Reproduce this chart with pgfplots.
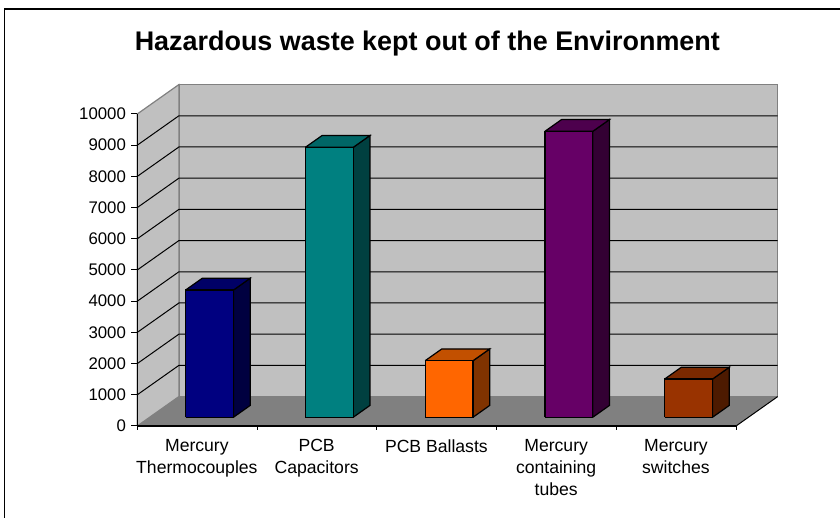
\documentclass[border=0pt]{standalone}
\usepackage{pgfplots}
\pgfplotsset{compat=1.18}
\usepackage{fontspec}
\setmainfont{Liberation Sans}
\definecolor{wall}{HTML}{C0C0C0}
\definecolor{flr}{HTML}{808080}
\definecolor{f0}{HTML}{000080}\definecolor{t0}{HTML}{000066}\definecolor{s0}{HTML}{000040}
\definecolor{f1}{HTML}{008080}\definecolor{t1}{HTML}{006666}\definecolor{s1}{HTML}{004040}
\definecolor{f2}{HTML}{FF6600}\definecolor{t2}{HTML}{C25000}\definecolor{s2}{HTML}{803300}
\definecolor{f3}{HTML}{660066}\definecolor{t3}{HTML}{4D004D}\definecolor{s3}{HTML}{330033}
\definecolor{f4}{HTML}{993300}\definecolor{t4}{HTML}{7A2900}\definecolor{s4}{HTML}{4D1A00}
\begin{document}
\begin{tikzpicture}[x=1pt,y=1pt]
\path[use as bounding box] (0,0) rectangle (630,388.5);
\draw[black,line width=1.4pt] (3.4,0) -- (3.4,381.75) -- (630,381.75);
\node[font=\bfseries\fontsize{20.2pt}{22pt}\selectfont] at (320.5,355.8) {Hazardous waste kept out of the Environment};
\begin{axis}[
  at={(147.86pt,69pt)},anchor=origin,
  x={(89.82pt,0pt)},y={(31.2pt,22.05pt)},z={(0pt,0.0234pt)},
  xmin=-0.5,xmax=4.5,ymin=0,ymax=1,zmin=0,zmax=10000,
  clip=false,
  axis line style={draw=none},
  xtick={0,1,2,3,4},
  xticklabels={{Mercury\\Thermocouples},{PCB\\Capacitors},{PCB Ballasts},{Mercury\\containing\\tubes},{Mercury\\switches}},
  ytick=\empty,
  ztick={0,1000,...,10000},
  scaled z ticks=false,
  /pgf/number format/assume math mode=true,
  /pgf/number format/set thousands separator={},
  xticklabel style={align=center,font=\fontsize{13.2pt}{16.5pt}\selectfont,anchor=north,xshift=-0.2pt,yshift=-6.75pt},
  zticklabel style={font=\fontsize{12.6pt}{14pt}\selectfont,anchor=east,xshift=-5pt},
  tick style={draw=none},
  major tick length=0pt,
]
% walls and floor
\addplot3[fill=wall,draw=flr,line width=1.2pt,no marks] coordinates {(-0.5,1,0) (4.5,1,0) (4.5,1,10000) (-0.5,1,10000) (-0.5,1,0)};
\addplot3[fill=wall,draw=flr,line width=0.9pt,no marks] coordinates {(-0.5,0,0) (-0.5,1,0) (-0.5,1,10000) (-0.5,0,10000) (-0.5,0,0)};
% gridlines
\foreach \v in {1000,2000,...,9000}{
  \edef\tmp{\noexpand\addplot3[black,line width=0.75pt,no marks] coordinates {(-0.5,0,\v) (-0.5,1,\v) (4.5,1,\v)};}
  \tmp
}
\addplot3[fill=flr,draw=none,no marks] coordinates {(-0.5,0,0) (4.5,0,0) (4.5,1,0) (-0.5,1,0) (-0.5,0,0)};
% axes and ticks
\addplot3[black,line width=0.75pt,no marks] coordinates {(-0.5,0,10000) (-0.5,0,0)};
\addplot3[black,line width=1.1pt,no marks] coordinates {(-0.5,0,0) (4.5,0,0)};
\addplot3[black,line width=0.75pt,no marks] coordinates {(4.5,0,0) (4.5,1,0)};
\foreach \v in {0,1000,...,10000}{
  \edef\tmp{\noexpand\addplot3[black,line width=0.75pt,no marks] coordinates {(-0.55,0,\v) (-0.5,0,\v)};}
  \tmp
}
\foreach \c in {-0.5,0.5,1.5,2.5,3.5,4.5}{
  \edef\tmp{\noexpand\addplot3[black,line width=0.75pt,no marks] coordinates {(\c,0,0) (\c,0,-140)};}
  \tmp
}
% bars
\foreach \i/\w in {0/4077,1/8651,2/1811,3/9163,4/1224}{
  \pgfmathsetmacro\a{\i-0.2}\pgfmathsetmacro\b{\i+0.2}
  \edef\tmp{\noexpand\addplot3[fill=s\i,draw=black,line width=0.9pt,no marks] coordinates {(\b,0.3,0) (\b,0.7,0) (\b,0.7,\w) (\b,0.3,\w) (\b,0.3,0)};
  \noexpand\addplot3[fill=t\i,draw=black,line width=0.9pt,no marks] coordinates {(\a,0.3,\w) (\b,0.3,\w) (\b,0.7,\w) (\a,0.7,\w) (\a,0.3,\w)};
  \noexpand\addplot3[fill=f\i,draw=black,line width=0.9pt,no marks] coordinates {(\a,0.3,0) (\b,0.3,0) (\b,0.3,\w) (\a,0.3,\w) (\a,0.3,0)};}
  \tmp
}
\end{axis}
\end{tikzpicture}
\end{document}
